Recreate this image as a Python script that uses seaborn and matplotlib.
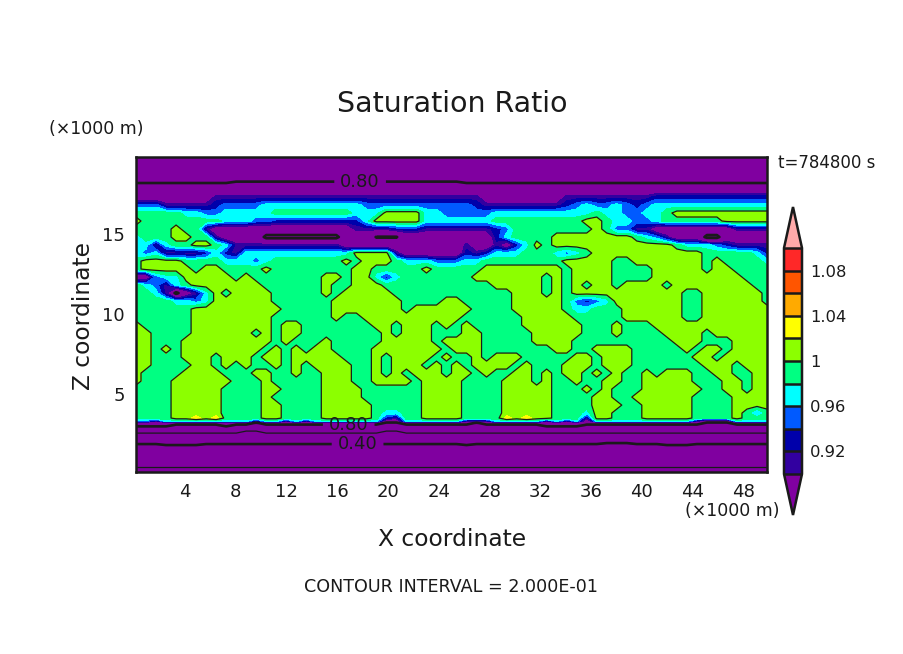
import numpy as np
import pandas as pd
import seaborn as sns
import matplotlib
matplotlib.use("Agg")
import matplotlib.pyplot as plt
from matplotlib.ticker import MultipleLocator

# height of each row of the map below (x1000 m)
z_rows = [19.81, 19.31, 18.81, 18.31, 17.81, 17.31, 16.81, 16.31, 15.81, 15.31,
          14.81, 14.31, 13.81, 13.31, 12.81, 12.31, 11.81, 11.31, 10.81, 10.31,
          9.81, 9.31, 8.81, 8.31, 7.81, 7.31, 6.81, 6.31, 5.81, 5.31,
          4.81, 4.31, 3.81, 3.50, 3.31, 3.19, 3.06, 2.875, 2.56, 1.875,
          1.19, 0.44, 0.13]

# what each letter in the map stands for (saturation ratio read off the bands)
codes = {"z": 0.14, "2": 0.20, "3": 0.30, "e": 0.38, "4": 0.40, "f": 0.41,
         "a": 0.52, "6": 0.60, "T": 0.72, "K": 0.74, "M": 0.78, "N": 0.795,
         "P": 0.86, "I": 0.91, "D": 0.93, "B": 0.95, "C": 0.97, "G": 0.99,
         "L": 1.01, "Y": 1.03}

# saturation ratio, top row first
sat_rows = [
    "K" * 64,
    "K" * 64,
    "K" * 64,
    "M" * 10 + "N" * 23 + "M" * 31,
    "P" * 64,
    "PPPPPPPPIIIIIIIIIIIIIIIIIIIIIIIII" "IIPPPPPPPPIIIIIIIIIDDDDDDDDDDDD",
    "BBBIIIIIDBBBBCCCCCCCCCCBBBBBBBBBB" "BDIIIIIIIIDBCBBCBDBCCCCCCCCCCCC",
    "GGGGGCCBBCCCCCGGGGGGGGCCCLLLLCCBB" "BBBCCCCCCCCCCGCCBBCCGLLLLLLLLLL",
    "LGGGGGGGGCCCBBDDDDDDDDDCLLLLLCCCC" "CCCGGGGGGGGGLLGCCBBCGGGGGGLLLLL",
    "GGGGLGGIPPPPPPPPPPPPPPIIIIDDDIIII" "IIIDBGGGGGGGGLGBBIIPPPPPPPPIIII",
    "CGGGLLGGIPPPPMMMMMMMMPPPNNNPPPPPP" "PPPDCGGGGLLLLLLLLGCBIPPPMMPPPPP",
    "CCICGGLLGCIIIIIIIIIIIPPPPPPPPPPPP" "IPPIPDCLGLLLLLLLLLLLLGCCCBDIIII",
    "CBCIIIIDCDICCCCCCCCCCCLLLLIPPPPPP" "DIDCCCGGGCBCGLLLLLLLLLLLGGGGGCD",
    "GLLLLGGGGCCCBCGGGGGGGLGLLLGCCCBBB" "CCGGGGGGGGLLLLLGGLLLLLLLGLGGGGC",
    "GLLLLLGLLGGGGLGGGGGGGGLLGGGGGLGGG" "GGLLLLLLLLGLLLLGGGGLLLLLGLLGGGG",
    "PPBCCLLLLLGLGGGGGGGLLGLLCDCGGGGGG" "GLLLLLLLGLGLLLLGGGGLLLLLLLLLGGG",
    "GCBICGLLLLLLLGGGGGGLGGLLLGGGGGGGG" "GGGLLLLLGLGLGLLGLLLLGLLLLLLLLGG",
    "GGCIMPICLGLLLLGGGGGLGLLLLLGGGGGGG" "GGGGGLLLGLGLLLLLLLLLLLGGLLLLLLG",
    "GGGGCCBCLLLLLLGGGGGGLLLLLLLGGGGLL" "GGGGGLLLLLGBDBCLLLLLLLGGLLLLLLG",
    "GGGGGGLLLLLLLLLGGGGGLLLLLLLGLLLLL" "LGGGGLLLLLGCCGGGLLLLLLGGLLLLLLL",
    "GGGGGGLLLLLLLLGGGGGGLGGLLLLLLLLLL" "GGGGGGLLLLLGGGGGLLLLLLGGLLLLLLL",
    "LGGGGGLLLLLLLLGLLGGGGGGGLLGLLLGLG" "LGGGGGLLLLLLGGGLGGGLLLLLLLLLLLL",
    "LLGGGGLLLLLLGLGLLGGGGGGGGLGLLLGGG" "LLGGGGGLLLLLGGGLGGGGLLLLGLLLLLL",
    "LLGGGLLLLLLLLLGLGGGLGGGGGLLLLLGLL" "LLGGGGGLLLLGGGGGGGGGGLLLGGGLLLL",
    "LLGLGLLLLLLLLGLGLGLLGGGGLLLLLLLGL" "LLGGGGGGGLLGGLLLLGGGGGLGLLGLLLL",
    "LLGGGLLLGLLLGLLGLLLLLGGGLGLLLLGLG" "GLGLLLGGGGGLLGLLLGGGGGGLLGLLLLL",
    "LLGGGGLLGLGLGGLGLGLLLLGGLGLLLGLGL" "GLLLLGLGGGLLLGLLLGGGGGGGLLLGLLL",
    "LGGGGLLLLGGGLLGGLGGLLLGGLGLGLLLGL" "LGLGGLLGLGLLGLGLGGLGLLLGGLLGGLL",
    "LGGGLLLLLLGGGLGGGGGLLLGGLLLLGLLLL" "GGGGLLLGLGGLGGLLGGLLLLLGGGLLGLL",
    "GGGGLLLLLGGGGLLGGGGLLLLGGGGGGLLLL" "GGGGLLLLLGGGLGLGGGLLLLLLGGLLGLL",
    "GGGGLLLLLGGGGLGGGGGLLLLGGGGGGLLLL" "GGGGLLLLLGGGGLLGGLLLLLLGGGGLLLL",
    "GGGGLLLLLGGGGLLGGGGLLLLLGGGGGLLLL" "GGGGLLLLLGGGGLLLGGLLLLLGGGGLLLL",
    "GGGGLLLLLGGGGLLGGGGLLLLLGCCGGLLLL" "GGGGLLLLLGGGCLLGGGLLLLLGGGGLGBG",
    "GGGGLLYLYGGGGLLGGGGLLLLLGDIGGLLLL" "GGGGYLYLLGGGILLGGGLLLLLGGGGLGGG",
    "BBICCCCCCCCCICCICICCCCCCCPPCCCCCC" "IIICCCCCICICPCCCCCCCCCCIPPPCCCC",
    "P" * 12 + "M" + "P" * 12 + "MM" + "P" * 7 + "M" + "P" * 22 + "MMM" + "PPPP",
    "PPPP" + "M" * 5 + "P" + "M" * 31 + "PPPP" + "M" * 19,
    "T" * 64,
    "6" * 11 + "aa" + "6" * 12 + "aa" + "6" * 37,
    "444ffff" + "4" * 26 + "f" + "4" * 13 + "eee444fff" + "4" * 8,
    "3" * 64,
    "2" * 64,
    "z" * 64,
]

band_levels = [0.90, 0.92, 0.94, 0.96, 0.98, 1.00, 1.02, 1.04, 1.06, 1.08, 1.10]
band_colors = ["#3200a0", "#0000aa", "#005aff", "#00ffff", "#00ff82",
               "#8cff00", "#ffff00", "#ffaa00", "#ff5500", "#ff2828"]
under_color = "#8000a0"
over_color = "#ffaaaa"
thick_levels = [0.4, 0.8]
thin_levels = [0.2, 0.6, 1.0]
bar_ticks = [0.92, 0.96, 1.00, 1.04, 1.08]
bar_labels = ["0.92", "0.96", "1", "1.04", "1.08"]

sns.set_theme(style="ticks", font="DejaVu Sans",
              rc={"text.color": "k", "xtick.labelcolor": "k", "ytick.labelcolor": "k"})

# map of letters to a table of values
x_km = np.linspace(0.14, 49.86, 64)
df = pd.DataFrame([[codes[c] for c in row] for row in sat_rows], index=z_rows, columns=x_km)

fig = plt.figure(figsize=(9.04, 6.54), dpi=100, facecolor="white")
ax = fig.add_axes([136 / 904, 1 - 472 / 654, 631 / 904, 315 / 654])

palette = sns.color_palette(band_colors)
cf = ax.contourf(df.columns, df.index, df.values, levels=band_levels, colors=palette,
                 extend="both", antialiased=False)
cf.cmap.set_under(under_color)
cf.cmap.set_over(over_color)
cf.changed()
ax.contour(df.columns, df.index, df.values, levels=thin_levels, colors="k", linewidths=0.9)
cs = ax.contour(df.columns, df.index, df.values, levels=thick_levels, colors="k", linewidths=1.9)
labels = ax.clabel(cs, manual=[(17.8, 18.25), (16.9, 3.06), (17.6, 1.85)],
                   fmt="%.2f", inline=True, inline_spacing=6, fontsize=13)
for t in labels:
    t.set_rotation(0)
    t.set_color("k")

ax.set_xlim(0.14, 49.86)
ax.set_ylim(0.13, 19.81)
ax.xaxis.set_major_locator(MultipleLocator(4))
ax.xaxis.set_minor_locator(MultipleLocator(2))
ax.yaxis.set_major_locator(MultipleLocator(5))
ax.yaxis.set_minor_locator(MultipleLocator(1))
ax.tick_params(which="major", direction="in", top=True, right=True, length=6, width=1.2,
               labelsize=13, pad=8, color="k")
ax.tick_params(which="minor", direction="in", top=True, right=True, length=3, width=0.8, color="k")
for s in ax.spines.values():
    s.set_linewidth(1.8)
    s.set_color("k")

fig.text(452 / 904, 1 - 104 / 654, "Saturation Ratio", ha="center", va="center", fontsize=20.5)
fig.text(96 / 904, 1 - 129 / 654, "(×1000 m)", ha="center", va="center", fontsize=12.5)
fig.text(732 / 904, 1 - 511 / 654, "(×1000 m)", ha="center", va="center", fontsize=12.5)
fig.text(827 / 904, 1 - 163 / 654, "t=784800 s", ha="center", va="center", fontsize=12)
fig.text(452 / 904, 1 - 539 / 654, "X coordinate", ha="center", va="center", fontsize=16.8)
fig.text(83 / 904, 1 - 316 / 654, "Z coordinate", ha="center", va="center", rotation=90, fontsize=16.8)
fig.text(451 / 904, 1 - 587 / 654, "CONTOUR INTERVAL = 2.000E-01", ha="center", va="center", fontsize=12.6)

# the bar axes include both pointed ends
cax = fig.add_axes([784 / 904, 1 - 515 / 654, 18 / 904, 308 / 654])
cbar = fig.colorbar(cf, cax=cax, extendfrac=41 / 226, drawedges=True, ticks=bar_ticks)
cbar.ax.set_yticklabels(bar_labels)
cbar.ax.tick_params(length=0, labelsize=11.8, pad=6, labelcolor="k")
cbar.outline.set_linewidth(1.8)
cbar.outline.set_edgecolor("k")
cbar.dividers.set_color("k")
cbar.dividers.set_linewidth(1.8)

fig.savefig("out.png", dpi=100)
